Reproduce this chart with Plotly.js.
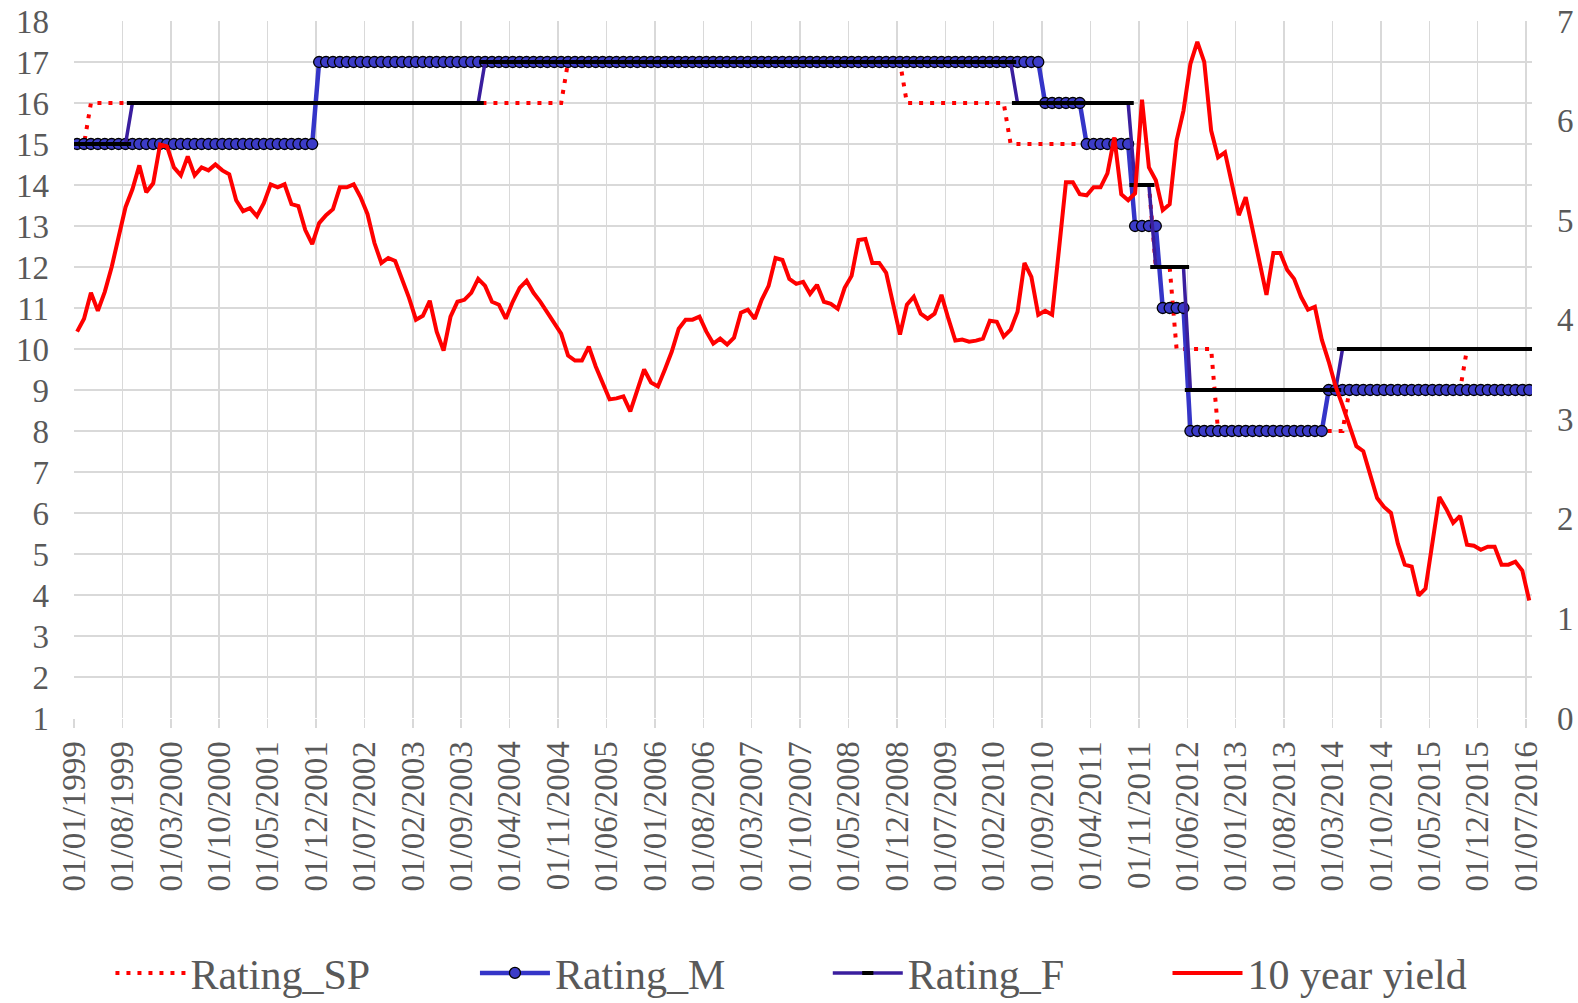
<!DOCTYPE html>
<html>
<head>
<meta charset="utf-8">
<script src="https://cdn.plot.ly/plotly-3.0.1.min.js"></script>
<style>
  html, body { margin: 0; padding: 0; background: #ffffff; }
  #chart { width: 1578px; height: 1003px; }
</style>
</head>
<body>
<div id="chart"></div>
<script>
// ---- Data (monthly, 01/01/1999 .. 01/07/2016) ----
const tickLabels = [
  "01/01/1999","01/08/1999","01/03/2000","01/10/2000","01/05/2001","01/12/2001",
  "01/07/2002","01/02/2003","01/09/2003","01/04/2004","01/11/2004","01/06/2005",
  "01/01/2006","01/08/2006","01/03/2007","01/10/2007","01/05/2008","01/12/2008",
  "01/07/2009","01/02/2010","01/09/2010","01/04/2011","01/11/2011","01/06/2012",
  "01/01/2013","01/08/2013","01/03/2014","01/10/2014","01/05/2015","01/12/2015",
  "01/07/2016"
];

const ratingSP = [
  15,15,16,16,16,16,16,16,16,16,16,16, // 1999
  16,16,16,16,16,16,16,16,16,16,16,16, // 2000
  16,16,16,16,16,16,16,16,16,16,16,16, // 2001
  16,16,16,16,16,16,16,16,16,16,16,16, // 2002
  16,16,16,16,16,16,16,16,16,16,16,16, // 2003
  16,16,16,16,16,16,16,16,16,16,16,17, // 2004
  17,17,17,17,17,17,17,17,17,17,17,17, // 2005
  17,17,17,17,17,17,17,17,17,17,17,17, // 2006
  17,17,17,17,17,17,17,17,17,17,17,17, // 2007
  17,17,17,17,17,17,17,17,17,17,17,17, // 2008
  16,16,16,16,16,16,16,16,16,16,16,16, // 2009
  16,16,16,15,15,15,15,15,15,15,15,15, // 2010
  15,15,15,15,15,15,15,15,15,14,14,14, // 2011
  12,12,12,10,10,10,10,10,10,8,8,8,     // 2012
  8,8,8,8,8,8,8,8,8,8,8,8,             // 2013
  8,8,8,8,9,9,9,9,9,9,9,9,             // 2014
  9,9,9,9,9,9,9,9,9,10,10,10,          // 2015
  10,10,10,10,10,10,10                 // 2016
];

const ratingM = [
  15,15,15,15,15,15,15,15,15,15,15,15, // 1999
  15,15,15,15,15,15,15,15,15,15,15,15, // 2000
  15,15,15,15,15,15,15,15,15,15,15,17, // 2001
  17,17,17,17,17,17,17,17,17,17,17,17, // 2002
  17,17,17,17,17,17,17,17,17,17,17,17, // 2003
  17,17,17,17,17,17,17,17,17,17,17,17, // 2004
  17,17,17,17,17,17,17,17,17,17,17,17, // 2005
  17,17,17,17,17,17,17,17,17,17,17,17, // 2006
  17,17,17,17,17,17,17,17,17,17,17,17, // 2007
  17,17,17,17,17,17,17,17,17,17,17,17, // 2008
  17,17,17,17,17,17,17,17,17,17,17,17, // 2009
  17,17,17,17,17,17,17,17,16,16,16,16, // 2010
  16,16,15,15,15,15,15,15,15,13,13,13, // 2011
  13,11,11,11,11,8,8,8,8,8,8,8,        // 2012
  8,8,8,8,8,8,8,8,8,8,8,8,             // 2013
  8,9,9,9,9,9,9,9,9,9,9,9,             // 2014
  9,9,9,9,9,9,9,9,9,9,9,9,             // 2015
  9,9,9,9,9,9,9                        // 2016
];

const ratingF = [
  15,15,15,15,15,15,15,15,16,16,16,16, // 1999
  16,16,16,16,16,16,16,16,16,16,16,16, // 2000
  16,16,16,16,16,16,16,16,16,16,16,16, // 2001
  16,16,16,16,16,16,16,16,16,16,16,16, // 2002
  16,16,16,16,16,16,16,16,16,16,16,17, // 2003
  17,17,17,17,17,17,17,17,17,17,17,17, // 2004
  17,17,17,17,17,17,17,17,17,17,17,17, // 2005
  17,17,17,17,17,17,17,17,17,17,17,17, // 2006
  17,17,17,17,17,17,17,17,17,17,17,17, // 2007
  17,17,17,17,17,17,17,17,17,17,17,17, // 2008
  17,17,17,17,17,17,17,17,17,17,17,17, // 2009
  17,17,17,17,16,16,16,16,16,16,16,16, // 2010
  16,16,16,16,16,16,16,16,16,14,14,14, // 2011
  12,12,12,12,12,9,9,9,9,9,9,9,        // 2012
  9,9,9,9,9,9,9,9,9,9,9,9,             // 2013
  9,9,9,10,10,10,10,10,10,10,10,10,    // 2014
  10,10,10,10,10,10,10,10,10,10,10,10, // 2015
  10,10,10,10,10,10,10                 // 2016
];

const yield10y = [
  3.88,4.01,4.27,4.09,4.28,4.53,4.83,5.13,5.31,5.55,5.28,5.37, // 1999
  5.76,5.74,5.53,5.45,5.64,5.45,5.53,5.50,5.56,5.50,5.46,5.20, // 2000
  5.09,5.12,5.04,5.17,5.36,5.33,5.36,5.16,5.14,4.90,4.76,4.97, // 2001
  5.05,5.11,5.33,5.33,5.36,5.23,5.06,4.77,4.57,4.62,4.59,4.41, // 2002
  4.22,4.00,4.04,4.19,3.88,3.69,4.03,4.18,4.20,4.27,4.41,4.34, // 2003
  4.18,4.15,4.01,4.18,4.32,4.39,4.27,4.18,4.07,3.96,3.86,3.64, // 2004
  3.59,3.59,3.73,3.53,3.36,3.20,3.21,3.23,3.08,3.29,3.50,3.37, // 2005
  3.33,3.50,3.68,3.91,4.00,4.00,4.03,3.88,3.76,3.81,3.75,3.82, // 2006
  4.07,4.10,4.01,4.20,4.34,4.62,4.60,4.41,4.36,4.38,4.26,4.35, // 2007
  4.18,4.16,4.11,4.32,4.44,4.80,4.81,4.57,4.57,4.47,4.16,3.85, // 2008
  4.15,4.23,4.06,4.01,4.06,4.25,4.01,3.79,3.80,3.78,3.79,3.81, // 2009
  3.99,3.98,3.83,3.90,4.08,4.57,4.43,4.05,4.09,4.05,4.71,5.38, // 2010
  5.38,5.26,5.25,5.33,5.33,5.47,5.83,5.26,5.20,5.27,6.21,5.53, // 2011
  5.40,5.10,5.16,5.80,6.10,6.57,6.79,6.59,5.90,5.63,5.68,5.37, // 2012
  5.05,5.23,4.90,4.57,4.25,4.67,4.67,4.50,4.41,4.23,4.10,4.13, // 2013
  3.80,3.58,3.33,3.14,2.93,2.73,2.68,2.43,2.21,2.12,2.06,1.75, // 2014
  1.54,1.52,1.23,1.30,1.75,2.22,2.10,1.96,2.03,1.74,1.73,1.69, // 2015
  1.72,1.72,1.54,1.54,1.57,1.48,1.18                           // 2016
];

// ---- Axis positions ----
const monthIdx = ratingSP.map((_, i) => i);          // one point per month
const AXIS_SHIFT = 0.45;                              // Excel places points slightly right of the gridlines
const tickVals = tickLabels.map((_, k) => k * 7 - AXIS_SHIFT);

const FONT = "'Liberation Serif', 'Times New Roman', serif";
const GREY = "#595959";
const GRID = "#d9d9d9";

const traces = [
  {
    x: monthIdx, y: ratingSP, name: "Rating_SP", type: "scatter", mode: "lines",
    line: { color: "#ff0000", width: 4, dash: "4px,7px" },
    legend: "legend"
  },
  {
    x: monthIdx, y: ratingM, name: "Rating_M", type: "scatter", mode: "lines+markers",
    line: { color: "#3535c8", width: 4.5 },
    marker: { symbol: "circle", size: 11, color: "#3c3cc8", line: { color: "#000000", width: 1.3 } },
    legend: "legend2"
  },
  {
    x: monthIdx, y: ratingF, name: "Rating_F", type: "scatter", mode: "lines+markers",
    line: { color: "#3a1e9e", width: 3.5 },
    marker: { symbol: "line-ew", size: 8, color: "#000000", line: { color: "#000000", width: 4 } },
    legend: "legend3"
  },
  {
    x: monthIdx, y: yield10y, name: "10 year yield", type: "scatter", mode: "lines",
    line: { color: "#ff0000", width: 4 },
    yaxis: "y2", legend: "legend4"
  }
];

const legendBase = {
  orientation: "h", yanchor: "middle", y: -0.366, xanchor: "left",
  font: { family: FONT, size: 42, color: GREY },
  bgcolor: "rgba(0,0,0,0)", borderwidth: 0, itemwidth: 70, tracegroupgap: 0
};

const layout = {
  width: 1578, height: 1003,
  margin: { l: 74, r: 46, t: 21, b: 285, pad: 0, autoexpand: false },
  paper_bgcolor: "#ffffff", plot_bgcolor: "#ffffff",
  font: { family: FONT, size: 33, color: GREY },
  showlegend: true,
  xaxis: {
    type: "linear",
    range: [-AXIS_SHIFT, 210.4],
    tickmode: "array", tickvals: tickVals, ticktext: tickLabels,
    tickangle: -90,
    tickfont: { family: FONT, size: 33, color: GREY },
    ticks: "outside", ticklen: 9, tickcolor: GRID, tickwidth: 1.5,
    showgrid: true, gridcolor: GRID, gridwidth: 1.5,
    zeroline: false, showline: false,
    ticklabelstandoff: 0
  },
  yaxis: {
    range: [1, 18], tickmode: "linear", tick0: 1, dtick: 1,
    tickfont: { family: FONT, size: 33, color: GREY },
    showgrid: true, gridcolor: GRID, gridwidth: 1.5,
    zeroline: false, showline: false, ticks: "",
    ticklabelstandoff: 24
  },
  yaxis2: {
    overlaying: "y", side: "right",
    range: [0, 7], tickmode: "linear", tick0: 0, dtick: 1,
    tickfont: { family: FONT, size: 33, color: GREY },
    showgrid: false, zeroline: false, showline: false, ticks: "",
    ticklabelstandoff: 24
  },
  legend:  Object.assign({}, legendBase, { x: 0.025 }),
  legend2: Object.assign({}, legendBase, { x: 0.275 }),
  legend3: Object.assign({}, legendBase, { x: 0.517 }),
  legend4: Object.assign({}, legendBase, { x: 0.75 })
};

Plotly.newPlot("chart", traces, layout, { displayModeBar: false, staticPlot: true });
</script>
</body>
</html>
